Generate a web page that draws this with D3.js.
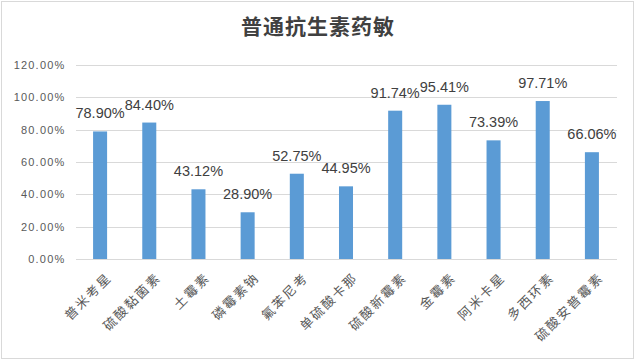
<!DOCTYPE html>
<html><head><meta charset="utf-8">
<script src="https://cdn.jsdelivr.net/npm/d3@7"></script>
<style>
html,body{margin:0;padding:0;background:#fff;}
svg{display:block;}
</style></head>
<body>
<script>
const title = "普通抗生素药敏";
const categories = ["普米考星","硫酸黏菌素","土霉素","磷霉素钠","氟苯尼考","单硫酸卡那","硫酸新霉素","金霉素","阿米卡星","多西环素","硫酸安普霉素"];
const values = [78.90, 84.40, 43.12, 28.90, 52.75, 44.95, 91.74, 95.41, 73.39, 97.71, 66.06];
const yTicks = [0, 20, 40, 60, 80, 100, 120];

const W = 636, H = 361;
const svg = d3.select("body").append("svg").attr("width", W).attr("height", H);
svg.append("rect").attr("x", 0).attr("y", 0).attr("width", W).attr("height", H).attr("fill", "#fff");
svg.append("rect").attr("x", 1.5).attr("y", 1.5).attr("width", 632).attr("height", 357)
  .attr("fill", "none").attr("stroke", "#d9d9d9").attr("stroke-width", 1);

const x = d3.scaleBand().domain(categories).range([75.5, 616.5]).paddingInner(0.715).paddingOuter(0.3575);
const y = d3.scaleLinear().domain([0, 120]).range([259, 65]);

svg.append("text").attr("x", 318).attr("y", 34).attr("text-anchor", "middle")
  .attr("font-family", "'Noto Sans CJK SC'").attr("font-weight", "bold").attr("font-size", 21)
  .attr("letter-spacing", "1px")
  .attr("fill", "#404040").text(title);

// gridlines
const yAxis = d3.axisLeft(y).tickValues(yTicks).tickSize(-(616.5 - 75.5)).tickPadding(10)
  .tickFormat(d => d.toFixed(2) + "%");
const gy = svg.append("g").attr("transform", "translate(75.5,0)").call(yAxis);
gy.select(".domain").remove();
gy.selectAll(".tick line").attr("stroke", "#d9d9d9").attr("shape-rendering", "crispEdges");
gy.selectAll(".tick text").attr("font-family", "'Liberation Sans'").attr("font-size", 11)
  .attr("letter-spacing", "1.2px").attr("fill", "#595959");

// bars
svg.append("g").selectAll("rect").data(values).join("rect")
  .attr("x", (d, i) => x(categories[i]))
  .attr("width", x.bandwidth())
  .attr("y", d => y(d))
  .attr("height", d => y(0) - y(d))
  .attr("fill", "#5b9bd5");

// data labels
svg.append("g").selectAll("text").data(values).join("text")
  .attr("x", (d, i) => x(categories[i]) + x.bandwidth() / 2)
  .attr("y", d => y(d) - 13)
  .attr("text-anchor", "middle")
  .attr("font-family", "'Liberation Sans'").attr("font-size", 14.5)
  .attr("fill", "#404040")
  .text(d => d.toFixed(2) + "%");

// x axis
const xAxis = d3.axisBottom(x).tickSize(0).tickPadding(0);
const gx = svg.append("g").attr("transform", "translate(0,259)").call(xAxis);
gx.select(".domain").attr("stroke", "#d9d9d9").attr("shape-rendering", "crispEdges");
gx.selectAll(".tick text")
  .attr("font-family", "'Noto Sans CJK SC'").attr("font-size", 13)
  .attr("letter-spacing", "2px")
  .attr("fill", "#595959")
  .attr("text-anchor", "end")
  .attr("dy", null).attr("y", null)
  .attr("transform", "translate(10,17) rotate(-45)")
  .attr("dominant-baseline", "middle");
</script>
</body></html>
